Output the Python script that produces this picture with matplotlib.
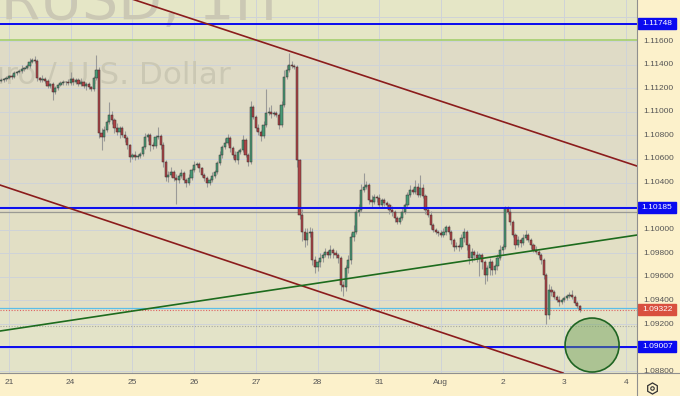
import numpy as np
import matplotlib
matplotlib.use("Agg")
import matplotlib.pyplot as plt
from matplotlib.patches import Rectangle, Ellipse
from matplotlib.lines import Line2D

# === Data ===
day_labels = ["21", "24", "25", "26", "27", "28", "31", "Aug", "2", "3", "4"]
price_ticks = [1.088, 1.090, 1.092, 1.094, 1.096, 1.098, 1.100, 1.102,
               1.104, 1.106, 1.108, 1.110, 1.112, 1.114, 1.116, 1.118]

first_open = 1.11262
closes = [
    1.11270, 1.11278, 1.11287, 1.11304, 1.11295, 1.11329, 1.11337, 1.11346, 1.11363, 1.11371,
    1.11388, 1.11422, 1.11439, 1.11431, 1.11287, 1.11270, 1.11278, 1.11261, 1.11219, 1.11236,
    1.11168, 1.11202, 1.11227, 1.11244, 1.11253, 1.11250, 1.11244, 1.11278, 1.11253, 1.11270,
    1.11236, 1.11253, 1.11219, 1.11236, 1.11210, 1.11193, 1.11287, 1.11354, 1.10820, 1.10786,
    1.10846, 1.10913, 1.10973, 1.10930, 1.10863, 1.10829, 1.10863, 1.10803, 1.10778, 1.10718,
    1.10617, 1.10634, 1.10617, 1.10625, 1.10642, 1.10701, 1.10786, 1.10803, 1.10718, 1.10712,
    1.10786, 1.10795, 1.10718, 1.10574, 1.10447, 1.10464, 1.10490, 1.10439, 1.10422, 1.10456,
    1.10481, 1.10422, 1.10396, 1.10439, 1.10506, 1.10549, 1.10557, 1.10523, 1.10464, 1.10439,
    1.10396, 1.10422, 1.10456, 1.10490, 1.10566, 1.10634, 1.10701, 1.10735, 1.10778, 1.10693,
    1.10634, 1.10591, 1.10659, 1.10676, 1.10761, 1.10634, 1.10574, 1.11041, 1.10956, 1.10863,
    1.10829, 1.10795, 1.10888, 1.10990, 1.10998, 1.10981, 1.10990, 1.10973, 1.10888, 1.11058,
    1.11295, 1.11354, 1.11397, 1.11388, 1.11380, 1.10591, 1.10125, 1.09981, 1.09913, 1.09972,
    1.09981, 1.09743, 1.09684, 1.09726, 1.09760, 1.09786, 1.09811, 1.09786, 1.09828, 1.09802,
    1.09786, 1.09760, 1.09531, 1.09514, 1.09675, 1.09743, 1.09938, 1.09981, 1.10150, 1.10167,
    1.10337, 1.10362, 1.10379, 1.10252, 1.10235, 1.10277, 1.10269, 1.10210, 1.10252, 1.10227,
    1.10210, 1.10167, 1.10150, 1.10099, 1.10066, 1.10099, 1.10150, 1.10210, 1.10294, 1.10337,
    1.10320, 1.10362, 1.10294, 1.10354, 1.10286, 1.10167, 1.10125, 1.10040, 1.09998, 1.09981,
    1.09975, 1.09955, 1.09981, 1.10023, 1.09981, 1.09913, 1.09853, 1.09862, 1.09853, 1.09930,
    1.09981, 1.09870, 1.09760, 1.09811, 1.09786, 1.09760, 1.09786, 1.09726, 1.09616, 1.09675,
    1.09726, 1.09658, 1.09692, 1.09760, 1.09828, 1.09853, 1.10184, 1.10150, 1.10066, 1.09955,
    1.09870, 1.09913, 1.09887, 1.09930, 1.09955, 1.09913, 1.09870, 1.09828, 1.09811, 1.09786,
    1.09743, 1.09616, 1.09277, 1.09489, 1.09472, 1.09430, 1.09404, 1.09387, 1.09404, 1.09421,
    1.09438, 1.09446, 1.09430, 1.09379, 1.09353, 1.09322,
]
# wick lengths beyond the body, in pips
upper_wick = [
    2, 1, 2, 1, 2, 2, 1, 2, 3, 1,  2, 3, 2, 3, 2, 1, 3, 2, 2, 1,
    2, 2, 1, 2, 2, 1, 3, 6, 2, 2,  2, 3, 1, 2, 2, 1, 2, 13, 3, 4,
    3, 2, 11, 3, 2, 4, 2, 2, 3, 2,  1, 2, 3, 2, 2, 1, 3, 2, 2, 3,
    2, 8, 2, 3, 2, 3, 4, 2, 3, 2,  3, 2, 2, 3, 2, 3, 2, 2, 1, 2,
    2, 2, 3, 2, 2, 3, 2, 4, 3, 2,  2, 3, 2, 2, 4, 2, 2, 5, 2, 2,
    3, 2, 3, 20, 4, 6, 2, 2, 2, 3,  6, 4, 10, 3, 2, 2, 1, 5, 3, 4,
    4, 3, 3, 2, 4, 2, 3, 2, 4, 2,  3, 2, 2, 3, 3, 4, 3, 6, 4, 5,
    5, 12, 3, 2, 4, 3, 2, 3, 2, 2,  2, 2, 3, 2, 2, 2, 3, 2, 3, 4,
    2, 6, 3, 11, 3, 2, 2, 3, 2, 2,  2, 2, 3, 2, 2, 2, 2, 3, 2, 3,
    3, 2, 2, 3, 2, 3, 2, 2, 2, 3,  3, 2, 2, 3, 4, 3, 2, 2, 3, 2,
    2, 3, 2, 3, 4, 2, 2, 2, 3, 2,  2, 2, 2, 5, 3, 2, 2, 3, 2, 2,
    2, 3, 4, 2, 2, 1,
]
lower_wick = [
    1, 2, 2, 1, 2, 1, 2, 1, 2, 2,  1, 2, 1, 2, 3, 2, 2, 2, 2, 2,
    7, 2, 2, 1, 2, 2, 2, 2, 3, 2,  2, 2, 2, 3, 2, 2, 2, 2, 4, 11,
    3, 2, 2, 3, 4, 3, 5, 2, 3, 3,  4, 2, 3, 2, 2, 2, 2, 3, 5, 3,
    2, 2, 3, 4, 3, 4, 2, 3, 20, 3,  2, 3, 3, 2, 2, 2, 2, 3, 2, 3,
    3, 2, 2, 2, 2, 2, 3, 2, 2, 3,  3, 2, 3, 2, 2, 2, 3, 2, 2, 3,
    3, 4, 2, 2, 2, 3, 2, 2, 3, 2,  2, 2, 2, 2, 2, 6, 3, 8, 6, 4,
    3, 4, 5, 3, 4, 3, 2, 3, 3, 4,  3, 4, 5, 8, 3, 4, 3, 3, 2, 3,
    2, 2, 2, 3, 4, 2, 3, 2, 3, 3,  2, 3, 3, 3, 2, 2, 2, 2, 2, 2,
    2, 2, 2, 2, 2, 3, 2, 3, 2, 2,  3, 2, 2, 3, 2, 3, 3, 2, 3, 2,
    3, 4, 5, 3, 4, 3, 15, 6, 8, 5,  6, 4, 3, 3, 2, 3, 2, 2, 3, 2,
    3, 2, 3, 2, 2, 2, 3, 2, 2, 3,  3, 3, 8, 3, 3, 2, 2, 3, 2, 2,
    2, 2, 2, 2, 2, 2,
]

# horizontal levels drawn on the chart
blue_levels = [1.11748, 1.10185, 1.09007]
green_level = 1.11610
gray_level = 1.10153
cyan_level = 1.09334
dotted_level = 1.09180
last_price = 1.09322

# trend lines (day-slot, price) end points
upper_channel = ([2.0, 10.178], [1.11955, 1.10540])
lower_channel = ([-0.146, 8.979], [1.10379, 1.08785])
green_trend = ([-0.146, 10.178], [1.09141, 1.09955])

# target circle
target_center = (9.45, 1.09022)
target_size = (0.875, 0.00458)

# === Layout ===
W, H = 680, 396
PW, PH = 637, 373
XLIM = (-0.146, 10.178)
YLIM = (1.08785, 1.11948)
BG = "#fcf1cb"

fig = plt.figure(figsize=(W / 100, H / 100), dpi=100, facecolor=BG)
ax = fig.add_axes([0, (H - PH) / H, PW / W, PH / H])
ax.set_xlim(*XLIM)
ax.set_ylim(*YLIM)
ax.set_facecolor("#dfdbc6")
ax.set_xticks([])
ax.set_yticks([])
for s in ax.spines.values():
    s.set_visible(False)

# background bands
ax.axhspan(green_level, YLIM[1], color="#e5e6c6", zorder=0)
ax.axhspan(cyan_level, gray_level, color="#e2dfc5", zorder=0)
ax.axhspan(YLIM[0], cyan_level, color="#e3e3c8", zorder=0)

# grid
for d in range(len(day_labels)):
    ax.axvline(d, color="#cfd3d8", lw=0.7, zorder=0.5)
for p in price_ticks:
    ax.axhline(p, color="#cfd3d8", lw=0.7, zorder=0.5)

# watermark
ax.text(277 / PW, 1 - 20 / PH, "EURUSD, 1H", transform=ax.transAxes, ha="right",
        va="baseline", fontsize=41, color="#cbc8b4", zorder=1)
ax.text(231 / PW, 1 - 84 / PH, "Euro / U.S. Dollar", transform=ax.transAxes, ha="right",
        va="baseline", fontsize=22.3, color="#cbc8b4", zorder=1)

# === Candles ===
closes = np.array(closes)
opens = np.r_[first_open, closes[:-1]]
pip = 0.0001
t = (np.arange(len(closes)) - 3) / 24
top = np.maximum(opens, closes)
bot = np.minimum(opens, closes)
highs = top + np.array(upper_wick) * pip
lows = bot - np.array(lower_wick) * pip
up = closes >= opens
colors = np.where(up, "#479a76", "#ad4346")

ax.vlines(t, lows, highs, color="#9a9a98", lw=0.8, zorder=3)
ax.bar(t, np.maximum(top - bot, 0.00004), bottom=bot, width=0.85 / 24,
       color=colors, edgecolor="#3a3030", linewidth=0.35, zorder=4)

# === Levels and trend lines ===
ax.axhline(green_level, color="#a3cf6e", lw=1.2, zorder=2)
ax.axhline(gray_level, color="#9a9a94", lw=0.9, zorder=2)
ax.axhline(cyan_level, color="#5bbfe8", lw=0.9, zorder=2)
ax.axhline(last_price, color="#e06060", lw=0.8, ls=(0, (1, 1.5)), zorder=2)
ax.axhline(dotted_level, color="#a8a8a0", lw=0.8, ls=(0, (1, 1.5)), zorder=2)
for lv in blue_levels:
    ax.axhline(lv, color="#0a0af0", lw=1.4, zorder=5)

ax.plot(*upper_channel, color="#8b1c1c", lw=1.2, zorder=5)
ax.plot(*lower_channel, color="#8b1c1c", lw=1.2, zorder=5)
ax.plot(*green_trend, color="#1d6b1d", lw=1.2, zorder=5)

ax.add_patch(Ellipse(target_center, *target_size, facecolor=(0.42, 0.62, 0.33, 0.45),
                     edgecolor="#1e6422", lw=1.2, zorder=6))

# === Price scale ===
pax = fig.add_axes([PW / W, (H - PH) / H, (W - PW) / W, PH / H])
pax.set_xlim(0, 1)
pax.set_ylim(*YLIM)
pax.axis("off")

box_h = 11 * (YLIM[1] - YLIM[0]) / PH
boxed = [(blue_levels[0], "#0a0af0"), (blue_levels[1], "#0a0af0"),
         (blue_levels[2], "#0a0af0"), (last_price, "#d9503f")]

for p in price_ticks:
    # labels fully covered by a boxed level are not shown
    if any(abs(p - lv) < box_h * 0.6 for lv, _ in boxed):
        continue
    pax.text(0.14, p, f"{p:.5f}", ha="left", va="center", fontsize=6,
             family="Liberation Sans", color="#555555", clip_on=True)

for lv, col in boxed:
    pax.add_patch(Rectangle((0.03, lv - box_h / 2), 0.88, box_h, color=col, zorder=5))
    pax.text(0.47, lv, f"{lv:.5f}", ha="center", va="center", fontsize=6,
             family="Liberation Sans", color="white", zorder=6)

# === Time scale ===
for d, lab in enumerate(day_labels):
    px = (d - XLIM[0]) / (XLIM[1] - XLIM[0]) * PW
    fig.text(px / W, (H - 383) / H, lab, ha="center", va="center", fontsize=6,
             family="Liberation Sans", color="#555555")

# separators and settings icon
fig.add_artist(Line2D([0, 1], [(H - PH) / H] * 2, color="#8f8f8f", lw=0.8,
                      transform=fig.transFigure))
fig.add_artist(Line2D([PW / W] * 2, [0, 1], color="#8f8f8f", lw=0.8,
                      transform=fig.transFigure))
fig.add_artist(Line2D([652 / W], [(H - 388) / H], marker="h", ms=8, mfc="none",
                      mec="#333333", mew=0.9, transform=fig.transFigure))
fig.add_artist(Line2D([652 / W], [(H - 388) / H], marker="o", ms=2.5, mfc="none",
                      mec="#333333", mew=0.8, transform=fig.transFigure))

fig.savefig("out.png", dpi=100, facecolor=BG)
